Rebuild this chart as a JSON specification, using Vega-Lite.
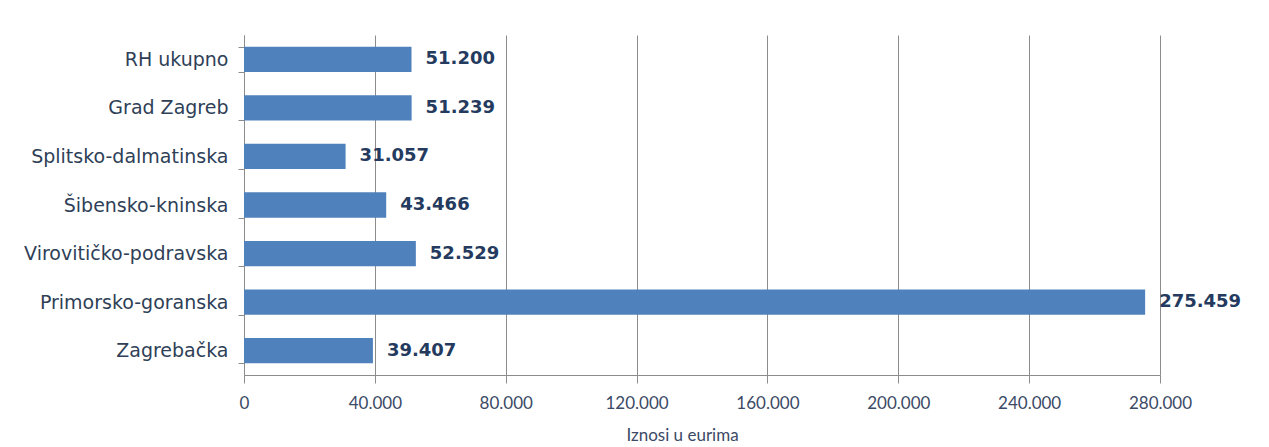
{
  "$schema": "https://vega.github.io/schema/vega-lite/v6.json",
  "autosize": {"type": "none"},
  "width": 916,
  "height": 340,
  "padding": {"left": 244, "top": 35, "right": 109, "bottom": 72},
  "background": "white",
  "config": {
    "locale": {"number": {"decimal": ",", "thousands": ".", "grouping": [3], "currency": ["", " €"]}},
    "view": {"stroke": null}
  },
  "data": {
    "values": [
      {"zupanija": "RH ukupno", "iznos": 51200},
      {"zupanija": "Grad Zagreb", "iznos": 51239},
      {"zupanija": "Splitsko-dalmatinska", "iznos": 31057},
      {"zupanija": "Šibensko-kninska", "iznos": 43466},
      {"zupanija": "Virovitičko-podravska", "iznos": 52529},
      {"zupanija": "Primorsko-goranska", "iznos": 275459},
      {"zupanija": "Zagrebačka", "iznos": 39407}
    ]
  },
  "encoding": {
    "y": {
      "field": "zupanija",
      "type": "nominal",
      "sort": null,
      "scale": {"paddingInner": 0.48, "paddingOuter": 0.24},
      "axis": {
        "title": null,
        "labelFont": "DejaVu Sans",
        "labelFontSize": 19,
        "labelColor": "#2f3f57",
        "labelPadding": 10,
        "labelLimit": 400,
        "tickBand": "extent",
        "tickSize": 6,
        "tickColor": "#8c8c8c",
        "domainColor": "#8c8c8c",
        "grid": false
      }
    },
    "x": {
      "field": "iznos",
      "type": "quantitative",
      "scale": {"domain": [0, 280000], "nice": false},
      "axis": {
        "values": [0, 40000, 80000, 120000, 160000, 200000, 240000, 280000],
        "format": ",d",
        "title": "Iznosi u eurima",
        "titleFont": "Lato",
        "titleFontSize": 17,
        "titleFontWeight": "normal",
        "titleColor": "#3b4a66",
        "titlePadding": 16,
        "titleX": 438,
        "labelFont": "Lato",
        "labelFontSize": 17,
        "labelColor": "#3b4a66",
        "labelPadding": 12,
        "labelFlush": false,
        "labelOverlap": false,
        "tickSize": 8,
        "tickColor": "#8c8c8c",
        "domainColor": "#8c8c8c",
        "grid": true,
        "gridColor": "#8c8c8c",
        "gridWidth": 1
      }
    }
  },
  "layer": [
    {"mark": {"type": "bar", "color": "#4f81bd"}},
    {
      "mark": {
        "type": "text",
        "align": "left",
        "baseline": "middle",
        "dx": 14,
        "font": "DejaVu Sans",
        "fontWeight": "bold",
        "fontSize": 18,
        "color": "#243a5e"
      },
      "encoding": {"text": {"field": "iznos", "type": "quantitative", "format": ",d"}}
    }
  ]
}
